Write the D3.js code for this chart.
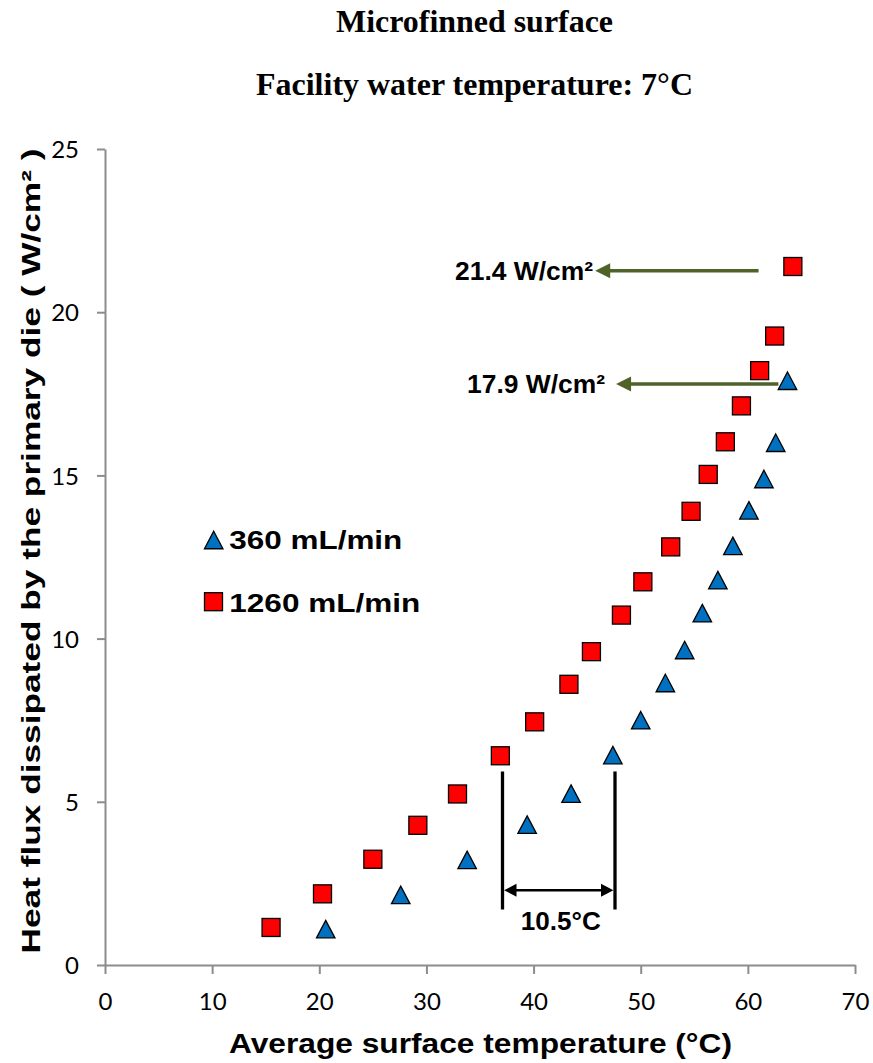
<!DOCTYPE html>
<html>
<head>
<meta charset="utf-8">
<script src="https://cdn.jsdelivr.net/npm/d3@7"></script>
<style>
  html, body { margin: 0; padding: 0; background: #fff; }
  svg { display: block; }
</style>
</head>
<body>
<svg id="chart" width="873" height="1063"></svg>
<script>
// Heat flux vs. average surface temperature, microfinned surface, two flow rates

const xTicks = [0, 10, 20, 30, 40, 50, 60, 70];
const yTicks = [0, 5, 10, 15, 20, 25];

// 1260 mL/min
const flowHighTemp = [15.5, 20.3, 25.0, 29.2, 32.9, 36.9, 40.1, 43.3, 45.4, 48.2, 50.2, 52.8, 54.7, 56.3, 57.9, 59.4, 61.1, 62.5, 64.2];
const flowHighFlux = [1.15, 2.18, 3.24, 4.28, 5.24, 6.41, 7.45, 8.60, 9.60, 10.72, 11.74, 12.81, 13.90, 15.03, 16.03, 17.13, 18.21, 19.27, 21.4];

// 360 mL/min
const flowLowTemp = [20.6, 27.6, 33.8, 39.4, 43.5, 47.4, 50.0, 52.3, 54.1, 55.75, 57.2, 58.6, 60.1, 61.5, 62.6, 63.7];
const flowLowFlux = [1.10, 2.15, 3.22, 4.30, 5.25, 6.43, 7.50, 8.64, 9.65, 10.78, 11.79, 12.84, 13.93, 14.89, 16.00, 17.9];

const seriesNames = ["360 mL/min", "1260 mL/min"];
const maxFluxLabels = ["21.4 W/cm²", "17.9 W/cm²"];
const deltaLabel = "10.5°C";
const deltaStart = 37.1;
const deltaValue = 10.5;

const svg = d3.select("#chart");

const x = d3.scaleLinear().domain([0, 70]).range([105, 855]);
const y = d3.scaleLinear().domain([0, 25]).range([965, 149]);

const AXIS_COLOR = "#8c8c8c";
const OLIVE = "#4f6228";
const RED = "#ff0000";
const BLUE = "#0070c0";

// Titles
svg.append("text")
  .attr("x", 474.5).attr("y", 32)
  .attr("text-anchor", "middle")
  .attr("font-family", "'Liberation Serif', 'Times New Roman', serif")
  .attr("font-weight", "bold").attr("font-size", 32)
  .attr("textLength", 277).attr("lengthAdjust", "spacingAndGlyphs")
  .text("Microfinned surface");

svg.append("text")
  .attr("x", 474.5).attr("y", 95)
  .attr("text-anchor", "middle")
  .attr("font-family", "'Liberation Serif', 'Times New Roman', serif")
  .attr("font-weight", "bold").attr("font-size", 32)
  .attr("textLength", 437).attr("lengthAdjust", "spacingAndGlyphs")
  .text("Facility water temperature: 7°C");

// Axes
const xAxis = svg.append("g")
  .attr("transform", `translate(0,${y(0)})`)
  .call(d3.axisBottom(x).tickValues(xTicks).tickSize(9).tickSizeOuter(0).tickFormat(d3.format("d")));
const yAxis = svg.append("g")
  .attr("transform", `translate(${x(0)},0)`)
  .call(d3.axisLeft(y).tickValues(yTicks).tickSize(8).tickSizeOuter(0).tickFormat(d3.format("d")));

[xAxis, yAxis].forEach(g => {
  g.select(".domain").attr("stroke", AXIS_COLOR).attr("stroke-width", 2);
  g.selectAll(".tick line").attr("stroke", AXIS_COLOR).attr("stroke-width", 2);
  g.selectAll(".tick text")
    .attr("fill", "#000")
    .attr("font-family", "Lato, 'Open Sans', sans-serif")
    .attr("font-size", 24);
});
xAxis.selectAll(".tick text").attr("y", 45).attr("dy", 0);
yAxis.selectAll(".tick text").attr("x", -26).attr("dy", "0.36em");

// Axis titles
svg.append("text")
  .attr("x", 480.5).attr("y", 1053)
  .attr("text-anchor", "middle")
  .attr("font-family", "'Liberation Sans', Arial, sans-serif")
  .attr("font-weight", "bold").attr("font-size", 28)
  .attr("textLength", 503).attr("lengthAdjust", "spacingAndGlyphs")
  .text("Average surface temperature (°C)");

svg.append("text")
  .attr("transform", "translate(40,551) rotate(-90)")
  .attr("text-anchor", "middle")
  .attr("font-family", "'Liberation Sans', Arial, sans-serif")
  .attr("font-weight", "bold").attr("font-size", 26)
  .attr("textLength", 805).attr("lengthAdjust", "spacingAndGlyphs")
  .text("Heat flux dissipated by the primary die  ( W/cm² )");

// Marker shapes
const SQ = 18;
const TRI_W = 18.5, TRI_H = 17.5;
function triPath(cx, cy) {
  return `M${cx},${cy - TRI_H / 2}L${cx + TRI_W / 2},${cy + TRI_H / 2}L${cx - TRI_W / 2},${cy + TRI_H / 2}Z`;
}

// Annotations: arrows to maximum heat flux
const arrowSpec = [
  { y: 21.27, x1: 61.0, x2: 45.75, label: maxFluxLabels[0], labelRight: 593 },
  { y: 17.8, x1: 62.85, x2: 47.7, label: maxFluxLabels[1], labelRight: 605 }
];
const ann = svg.append("g");
arrowSpec.forEach(a => {
  const py = y(a.y);
  const head = 15;
  ann.append("line")
    .attr("x1", x(a.x1)).attr("x2", x(a.x2) + head - 1)
    .attr("y1", py).attr("y2", py)
    .attr("stroke", OLIVE).attr("stroke-width", 3.3);
  ann.append("path")
    .attr("d", `M${x(a.x2)},${py}L${x(a.x2) + head},${py - 7.5}L${x(a.x2) + head},${py + 7.5}Z`)
    .attr("fill", OLIVE);
  ann.append("text")
    .attr("x", a.labelRight).attr("y", py + 9.3)
    .attr("text-anchor", "end")
    .attr("font-family", "'Liberation Sans', Arial, sans-serif")
    .attr("font-weight", "bold").attr("font-size", 26)
    .attr("textLength", 138).attr("lengthAdjust", "spacingAndGlyphs")
    .text(a.label);
});

// Temperature difference bracket
const dx1 = x(deltaStart), dx2 = x(deltaStart + deltaValue);
const dyTop = y(5.93), dyBot = y(1.7), dyArrow = y(2.29);
[dx1, dx2].forEach(px => {
  ann.append("line")
    .attr("x1", px).attr("x2", px).attr("y1", dyTop).attr("y2", dyBot)
    .attr("stroke", "#000").attr("stroke-width", 3.3);
});
ann.append("line")
  .attr("x1", dx1 + 12).attr("x2", dx2 - 12).attr("y1", dyArrow).attr("y2", dyArrow)
  .attr("stroke", "#000").attr("stroke-width", 2.6);
ann.append("path")
  .attr("d", `M${dx1 + 1.6},${dyArrow}L${dx1 + 14},${dyArrow - 6.5}L${dx1 + 14},${dyArrow + 6.5}Z`)
  .attr("fill", "#000");
ann.append("path")
  .attr("d", `M${dx2 - 1.6},${dyArrow}L${dx2 - 14},${dyArrow - 6.5}L${dx2 - 14},${dyArrow + 6.5}Z`)
  .attr("fill", "#000");
ann.append("text")
  .attr("x", (dx1 + dx2) / 2 + 2).attr("y", 930)
  .attr("text-anchor", "middle")
  .attr("font-family", "'Liberation Sans', Arial, sans-serif")
  .attr("font-weight", "bold").attr("font-size", 25)
  .attr("textLength", 80).attr("lengthAdjust", "spacingAndGlyphs")
  .text(deltaLabel);

// Data points
const highPts = flowHighTemp.map((t, i) => ({ t, q: flowHighFlux[i] }));
const lowPts = flowLowTemp.map((t, i) => ({ t, q: flowLowFlux[i] }));

svg.append("g").selectAll("rect").data(highPts).join("rect")
  .attr("x", d => x(d.t) - SQ / 2).attr("y", d => y(d.q) - SQ / 2)
  .attr("width", SQ).attr("height", SQ)
  .attr("fill", RED).attr("stroke", "#000").attr("stroke-width", 1.3);

svg.append("g").selectAll("path").data(lowPts).join("path")
  .attr("d", d => triPath(x(d.t), y(d.q)))
  .attr("fill", BLUE).attr("stroke", "#000").attr("stroke-width", 1.3)
  .attr("stroke-linejoin", "miter");

// Legend
const legend = svg.append("g");
legend.append("path").attr("d", triPath(213.7, 540))
  .attr("fill", BLUE).attr("stroke", "#000").attr("stroke-width", 1.3);
legend.append("rect").attr("x", 213.5 - SQ / 2).attr("y", 601.7 - SQ / 2)
  .attr("width", SQ).attr("height", SQ)
  .attr("fill", RED).attr("stroke", "#000").attr("stroke-width", 1.3);
const legendLengths = [173, 191];
const legendBaselines = [549, 611.7];
seriesNames.forEach((name, i) => {
  legend.append("text")
    .attr("x", 229.3).attr("y", legendBaselines[i])
    .attr("font-family", "'Liberation Sans', Arial, sans-serif")
    .attr("font-weight", "bold").attr("font-size", 25.6)
    .attr("textLength", legendLengths[i]).attr("lengthAdjust", "spacingAndGlyphs")
    .text(name);
});
</script>
</body>
</html>
